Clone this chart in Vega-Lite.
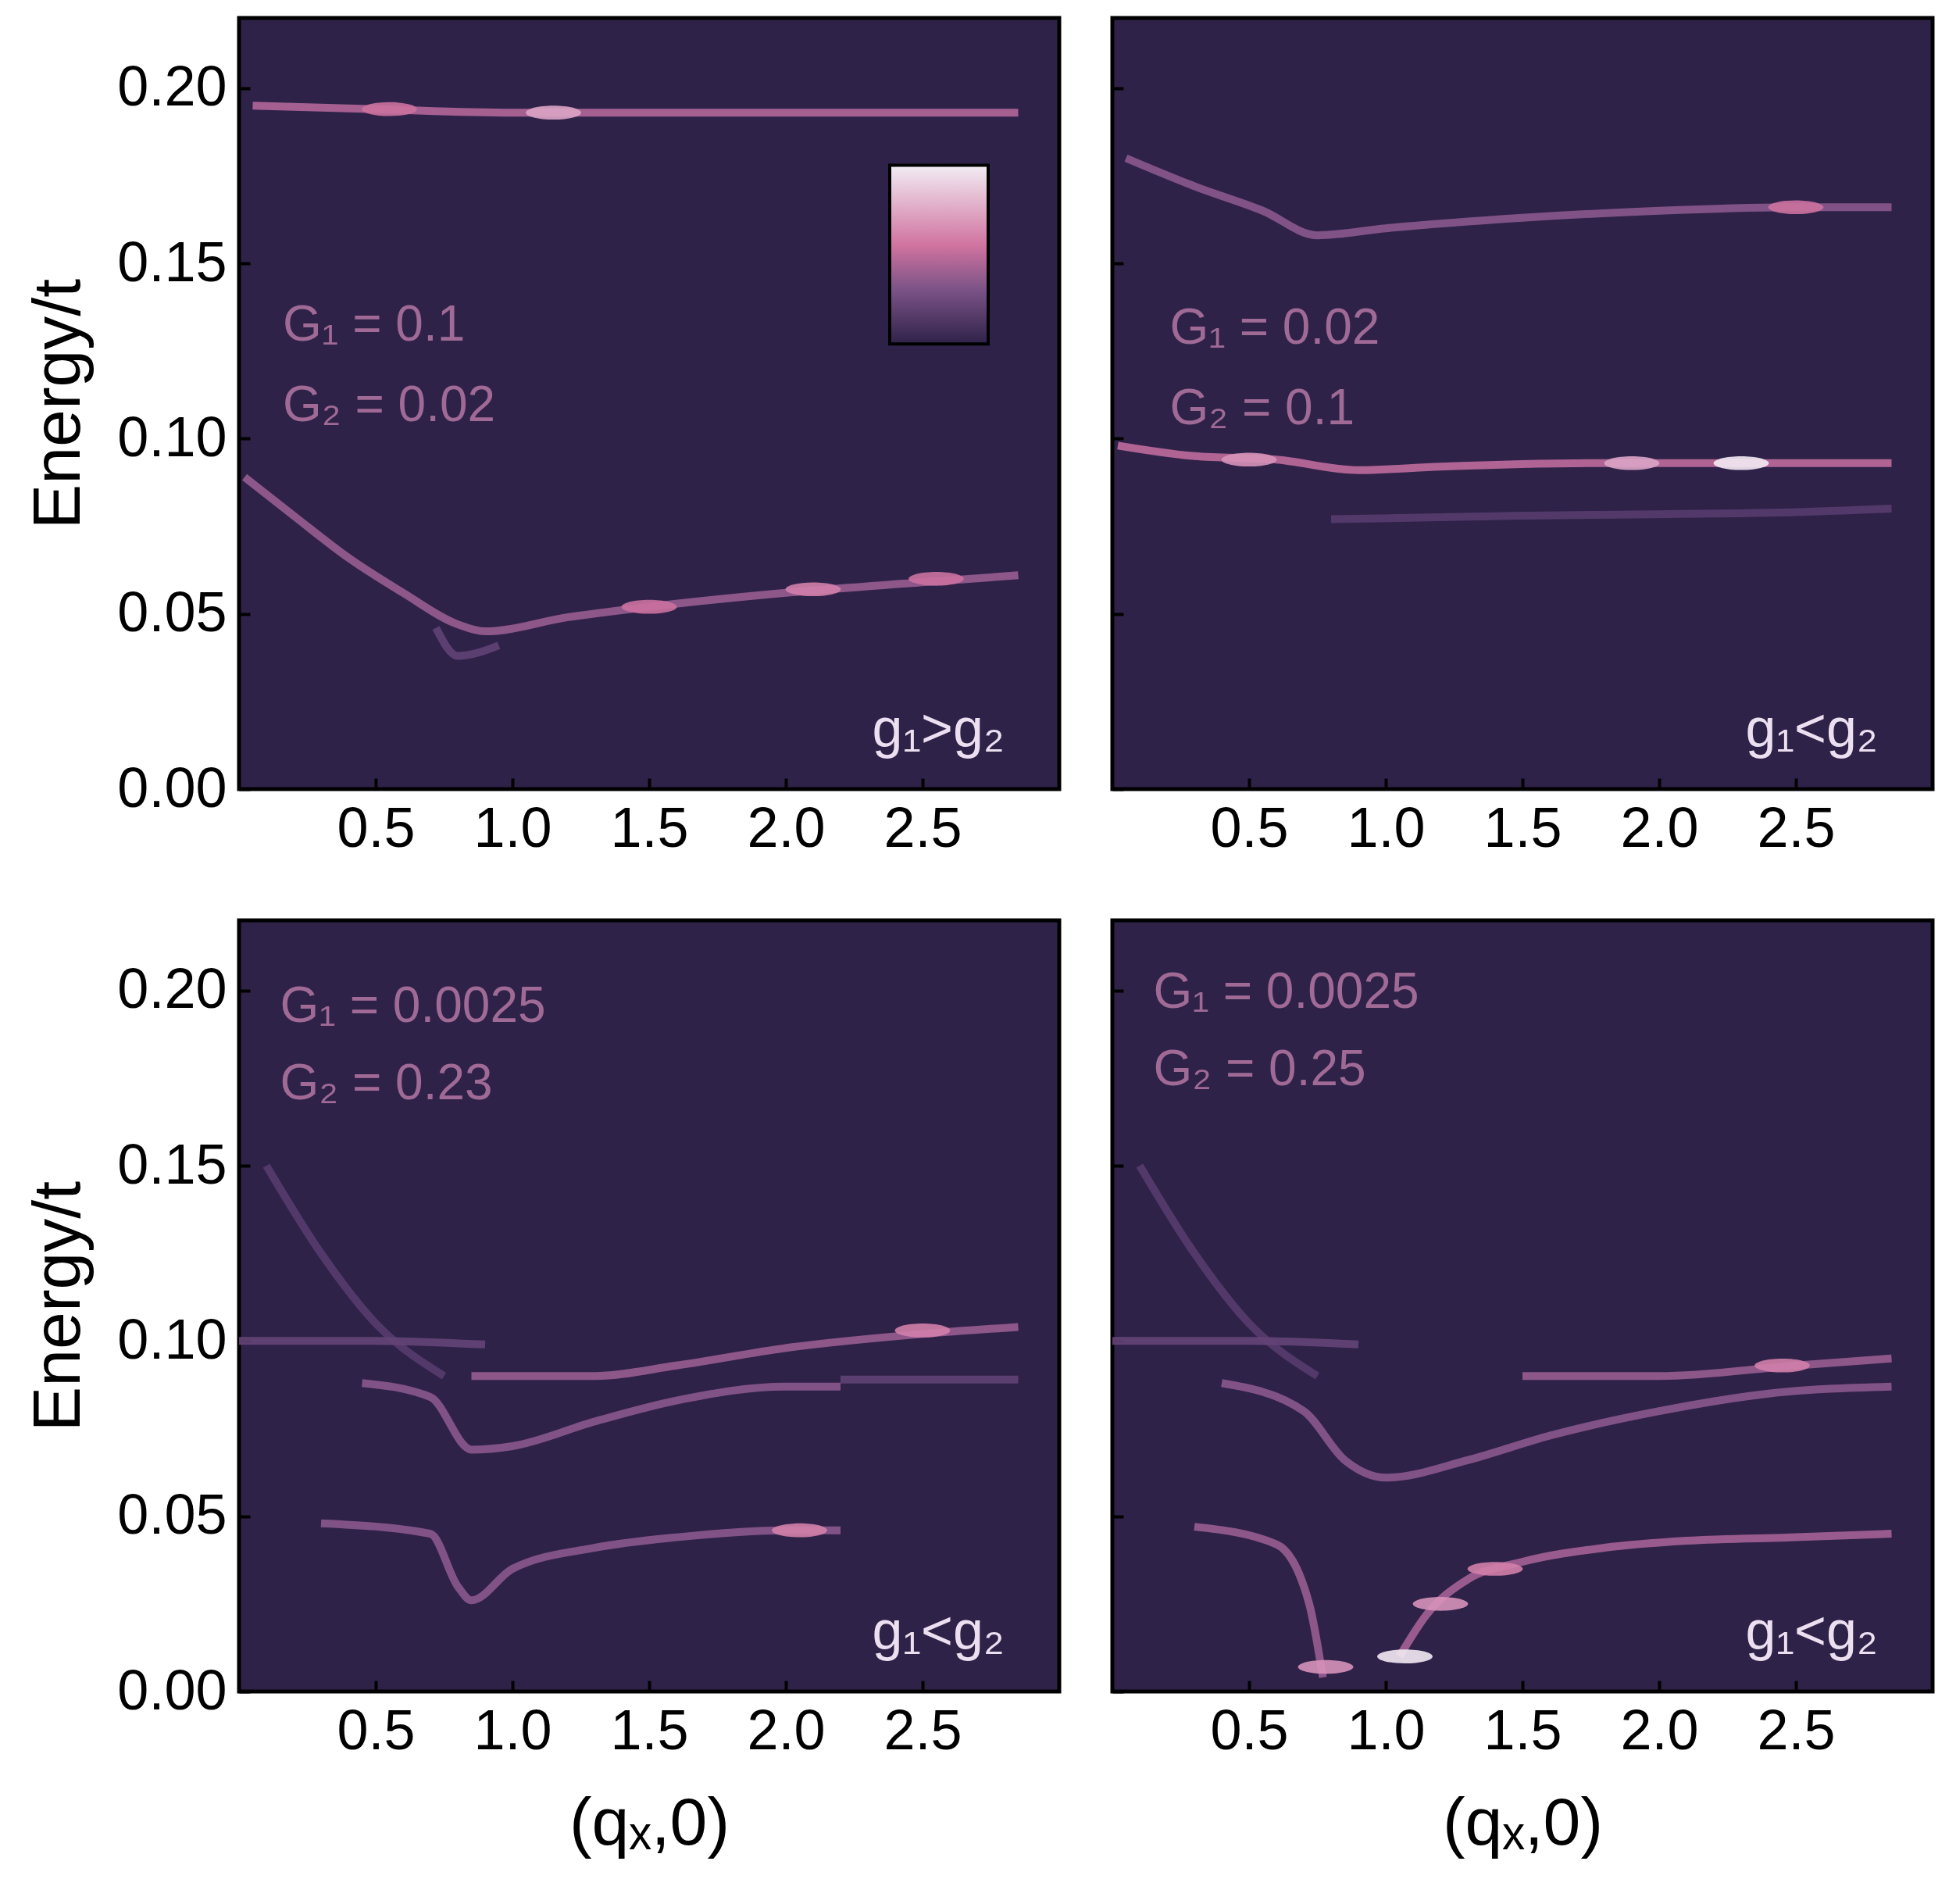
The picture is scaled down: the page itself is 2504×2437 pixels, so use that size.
{
  "$schema": "https://vega.github.io/schema/vega-lite/v6.json",
  "background": "white",
  "padding": {"left": 30, "top": 20, "right": 10, "bottom": 10},
  "datasets": {
    "bands": [
      {"panel": 1, "curve": "a", "tone": 0.55, "q": 0.05, "E": 0.195},
      {"panel": 1, "curve": "a", "tone": 0.55, "q": 0.5, "E": 0.194},
      {"panel": 1, "curve": "a", "tone": 0.55, "q": 1.0, "E": 0.193},
      {"panel": 1, "curve": "a", "tone": 0.55, "q": 1.5, "E": 0.193},
      {"panel": 1, "curve": "a", "tone": 0.55, "q": 2.0, "E": 0.193},
      {"panel": 1, "curve": "a", "tone": 0.55, "q": 2.5, "E": 0.193},
      {"panel": 1, "curve": "a", "tone": 0.55, "q": 2.85, "E": 0.193},
      {"panel": 1, "curve": "b", "tone": 0.45, "q": 0.02, "E": 0.089},
      {"panel": 1, "curve": "b", "tone": 0.45, "q": 0.2, "E": 0.078},
      {"panel": 1, "curve": "b", "tone": 0.45, "q": 0.4, "E": 0.066},
      {"panel": 1, "curve": "b", "tone": 0.45, "q": 0.6, "E": 0.056},
      {"panel": 1, "curve": "b", "tone": 0.45, "q": 0.8, "E": 0.047},
      {"panel": 1, "curve": "b", "tone": 0.45, "q": 0.9, "E": 0.045},
      {"panel": 1, "curve": "b", "tone": 0.45, "q": 1.2, "E": 0.049},
      {"panel": 1, "curve": "b", "tone": 0.45, "q": 1.5, "E": 0.052},
      {"panel": 1, "curve": "b", "tone": 0.45, "q": 2.0, "E": 0.056},
      {"panel": 1, "curve": "b", "tone": 0.45, "q": 2.5, "E": 0.059},
      {"panel": 1, "curve": "b", "tone": 0.45, "q": 2.85, "E": 0.061},
      {"panel": 1, "curve": "c", "tone": 0.2, "q": 0.72, "E": 0.046},
      {"panel": 1, "curve": "c", "tone": 0.2, "q": 0.8, "E": 0.038},
      {"panel": 1, "curve": "c", "tone": 0.2, "q": 0.95, "E": 0.041},

      {"panel": 2, "curve": "a", "tone": 0.4, "q": 0.05, "E": 0.18},
      {"panel": 2, "curve": "a", "tone": 0.4, "q": 0.3, "E": 0.172},
      {"panel": 2, "curve": "a", "tone": 0.4, "q": 0.55, "E": 0.165},
      {"panel": 2, "curve": "a", "tone": 0.4, "q": 0.75, "E": 0.158},
      {"panel": 2, "curve": "a", "tone": 0.4, "q": 1.0, "E": 0.16},
      {"panel": 2, "curve": "a", "tone": 0.4, "q": 1.5, "E": 0.163},
      {"panel": 2, "curve": "a", "tone": 0.4, "q": 2.0, "E": 0.165},
      {"panel": 2, "curve": "a", "tone": 0.4, "q": 2.5, "E": 0.166},
      {"panel": 2, "curve": "a", "tone": 0.4, "q": 2.85, "E": 0.166},
      {"panel": 2, "curve": "b", "tone": 0.6, "q": 0.02, "E": 0.098},
      {"panel": 2, "curve": "b", "tone": 0.6, "q": 0.3, "E": 0.095},
      {"panel": 2, "curve": "b", "tone": 0.6, "q": 0.6, "E": 0.094},
      {"panel": 2, "curve": "b", "tone": 0.6, "q": 0.9, "E": 0.091},
      {"panel": 2, "curve": "b", "tone": 0.6, "q": 1.2, "E": 0.092},
      {"panel": 2, "curve": "b", "tone": 0.6, "q": 1.8, "E": 0.093},
      {"panel": 2, "curve": "b", "tone": 0.6, "q": 2.3, "E": 0.093},
      {"panel": 2, "curve": "b", "tone": 0.6, "q": 2.85, "E": 0.093},
      {"panel": 2, "curve": "c", "tone": 0.15, "q": 0.8, "E": 0.077},
      {"panel": 2, "curve": "c", "tone": 0.15, "q": 1.5, "E": 0.078},
      {"panel": 2, "curve": "c", "tone": 0.15, "q": 2.5, "E": 0.079},
      {"panel": 2, "curve": "c", "tone": 0.15, "q": 2.85, "E": 0.08},

      {"panel": 3, "curve": "w", "tone": 0.15, "q": 0.1, "E": 0.15},
      {"panel": 3, "curve": "w", "tone": 0.15, "q": 0.3, "E": 0.125},
      {"panel": 3, "curve": "w", "tone": 0.15, "q": 0.5, "E": 0.105},
      {"panel": 3, "curve": "w", "tone": 0.15, "q": 0.75, "E": 0.09},
      {"panel": 3, "curve": "h", "tone": 0.22, "q": 0.0, "E": 0.1},
      {"panel": 3, "curve": "h", "tone": 0.22, "q": 0.5, "E": 0.1},
      {"panel": 3, "curve": "h", "tone": 0.22, "q": 0.9, "E": 0.099},
      {"panel": 3, "curve": "a", "tone": 0.4, "q": 0.45, "E": 0.088},
      {"panel": 3, "curve": "a", "tone": 0.4, "q": 0.7, "E": 0.084},
      {"panel": 3, "curve": "a", "tone": 0.4, "q": 0.85, "E": 0.069},
      {"panel": 3, "curve": "a", "tone": 0.4, "q": 1.0, "E": 0.07},
      {"panel": 3, "curve": "a", "tone": 0.4, "q": 1.3, "E": 0.077},
      {"panel": 3, "curve": "a", "tone": 0.4, "q": 1.6, "E": 0.083},
      {"panel": 3, "curve": "a", "tone": 0.4, "q": 2.0, "E": 0.087},
      {"panel": 3, "curve": "a", "tone": 0.4, "q": 2.2, "E": 0.087},
      {"panel": 3, "curve": "b", "tone": 0.45, "q": 0.85, "E": 0.09},
      {"panel": 3, "curve": "b", "tone": 0.45, "q": 1.3, "E": 0.09},
      {"panel": 3, "curve": "b", "tone": 0.45, "q": 1.6, "E": 0.093},
      {"panel": 3, "curve": "b", "tone": 0.45, "q": 2.0, "E": 0.098},
      {"panel": 3, "curve": "b", "tone": 0.45, "q": 2.5, "E": 0.102},
      {"panel": 3, "curve": "b", "tone": 0.45, "q": 2.85, "E": 0.104},
      {"panel": 3, "curve": "c", "tone": 0.2, "q": 2.2, "E": 0.089},
      {"panel": 3, "curve": "c", "tone": 0.2, "q": 2.85, "E": 0.089},
      {"panel": 3, "curve": "d", "tone": 0.4, "q": 0.3, "E": 0.048},
      {"panel": 3, "curve": "d", "tone": 0.4, "q": 0.7, "E": 0.045},
      {"panel": 3, "curve": "d", "tone": 0.4, "q": 0.8, "E": 0.03},
      {"panel": 3, "curve": "d", "tone": 0.4, "q": 0.85, "E": 0.026},
      {"panel": 3, "curve": "d", "tone": 0.4, "q": 1.0, "E": 0.035},
      {"panel": 3, "curve": "d", "tone": 0.4, "q": 1.3, "E": 0.041},
      {"panel": 3, "curve": "d", "tone": 0.4, "q": 1.6, "E": 0.044},
      {"panel": 3, "curve": "d", "tone": 0.4, "q": 2.0, "E": 0.046},
      {"panel": 3, "curve": "d", "tone": 0.4, "q": 2.2, "E": 0.046},

      {"panel": 4, "curve": "w", "tone": 0.15, "q": 0.1, "E": 0.15},
      {"panel": 4, "curve": "w", "tone": 0.15, "q": 0.3, "E": 0.125},
      {"panel": 4, "curve": "w", "tone": 0.15, "q": 0.5, "E": 0.105},
      {"panel": 4, "curve": "w", "tone": 0.15, "q": 0.75, "E": 0.09},
      {"panel": 4, "curve": "h", "tone": 0.22, "q": 0.0, "E": 0.1},
      {"panel": 4, "curve": "h", "tone": 0.22, "q": 0.5, "E": 0.1},
      {"panel": 4, "curve": "h", "tone": 0.22, "q": 0.9, "E": 0.099},
      {"panel": 4, "curve": "a", "tone": 0.4, "q": 0.4, "E": 0.088},
      {"panel": 4, "curve": "a", "tone": 0.4, "q": 0.7, "E": 0.08},
      {"panel": 4, "curve": "a", "tone": 0.4, "q": 0.85, "E": 0.066},
      {"panel": 4, "curve": "a", "tone": 0.4, "q": 1.0, "E": 0.061},
      {"panel": 4, "curve": "a", "tone": 0.4, "q": 1.3, "E": 0.066},
      {"panel": 4, "curve": "a", "tone": 0.4, "q": 1.6, "E": 0.073},
      {"panel": 4, "curve": "a", "tone": 0.4, "q": 2.0, "E": 0.08},
      {"panel": 4, "curve": "a", "tone": 0.4, "q": 2.4, "E": 0.085},
      {"panel": 4, "curve": "a", "tone": 0.4, "q": 2.85, "E": 0.087},
      {"panel": 4, "curve": "b", "tone": 0.45, "q": 1.5, "E": 0.09},
      {"panel": 4, "curve": "b", "tone": 0.45, "q": 2.0, "E": 0.09},
      {"panel": 4, "curve": "b", "tone": 0.45, "q": 2.5, "E": 0.093},
      {"panel": 4, "curve": "b", "tone": 0.45, "q": 2.85, "E": 0.095},
      {"panel": 4, "curve": "d", "tone": 0.45, "q": 0.3, "E": 0.047},
      {"panel": 4, "curve": "d", "tone": 0.45, "q": 0.6, "E": 0.042},
      {"panel": 4, "curve": "d", "tone": 0.45, "q": 0.72, "E": 0.025},
      {"panel": 4, "curve": "d", "tone": 0.45, "q": 0.77, "E": 0.004},
      {"panel": 4, "curve": "e", "tone": 0.5, "q": 1.05, "E": 0.01},
      {"panel": 4, "curve": "e", "tone": 0.5, "q": 1.15, "E": 0.022},
      {"panel": 4, "curve": "e", "tone": 0.5, "q": 1.3, "E": 0.032},
      {"panel": 4, "curve": "e", "tone": 0.5, "q": 1.5, "E": 0.037},
      {"panel": 4, "curve": "e", "tone": 0.5, "q": 1.8, "E": 0.041},
      {"panel": 4, "curve": "e", "tone": 0.5, "q": 2.1, "E": 0.043},
      {"panel": 4, "curve": "e", "tone": 0.5, "q": 2.5, "E": 0.044},
      {"panel": 4, "curve": "e", "tone": 0.5, "q": 2.85, "E": 0.045}
    ],
    "spots": [
      {"panel": 1, "q": 1.15, "E": 0.193, "tone": 0.8},
      {"panel": 1, "q": 0.55, "E": 0.194, "tone": 0.65},
      {"panel": 1, "q": 2.1, "E": 0.057, "tone": 0.7},
      {"panel": 1, "q": 2.55, "E": 0.06, "tone": 0.65},
      {"panel": 1, "q": 1.5, "E": 0.052, "tone": 0.65},
      {"panel": 2, "q": 2.3, "E": 0.093, "tone": 1.0},
      {"panel": 2, "q": 0.5, "E": 0.094, "tone": 0.75},
      {"panel": 2, "q": 1.9, "E": 0.093, "tone": 0.8},
      {"panel": 2, "q": 2.5, "E": 0.166, "tone": 0.65},
      {"panel": 3, "q": 2.05, "E": 0.046, "tone": 0.7},
      {"panel": 3, "q": 2.5, "E": 0.103, "tone": 0.7},
      {"panel": 4, "q": 1.07, "E": 0.01, "tone": 1.0},
      {"panel": 4, "q": 0.78, "E": 0.007, "tone": 0.75},
      {"panel": 4, "q": 1.2, "E": 0.025, "tone": 0.75},
      {"panel": 4, "q": 1.4, "E": 0.035, "tone": 0.7},
      {"panel": 4, "q": 2.45, "E": 0.093, "tone": 0.7}
    ],
    "labels": [
      {"panel": 1, "q": 0.16, "E": 0.128, "text": "G₁ = 0.1"},
      {"panel": 1, "q": 0.16, "E": 0.105, "text": "G₂ = 0.02"},
      {"panel": 2, "q": 0.21, "E": 0.127, "text": "G₁ = 0.02"},
      {"panel": 2, "q": 0.21, "E": 0.104, "text": "G₂ = 0.1"},
      {"panel": 3, "q": 0.15, "E": 0.191, "text": "G₁ = 0.0025"},
      {"panel": 3, "q": 0.15, "E": 0.169, "text": "G₂ = 0.23"},
      {"panel": 4, "q": 0.15, "E": 0.195, "text": "G₁ = 0.0025"},
      {"panel": 4, "q": 0.15, "E": 0.173, "text": "G₂ = 0.25"}
    ],
    "regimes": [
      {"panel": 1, "q": 2.8, "E": 0.012, "text": "g₁>g₂"},
      {"panel": 2, "q": 2.8, "E": 0.012, "text": "g₁<g₂"},
      {"panel": 3, "q": 2.8, "E": 0.012, "text": "g₁<g₂"},
      {"panel": 4, "q": 2.8, "E": 0.012, "text": "g₁<g₂"}
    ],
    "bar": [{"q1": 2.38, "q2": 2.74, "E1": 0.127, "E2": 0.178}]
  },
  "config": {
    "font": "Liberation Sans",
    "view": {"fill": "#2f2249", "stroke": "black", "strokeWidth": 5},
    "axis": {
      "labelFontSize": 72, "titleFontSize": 86, "titleFontWeight": "normal",
      "labelColor": "black", "titleColor": "black", "domain": false,
      "grid": false, "tickColor": "black", "tickWidth": 4, "tickSize": -14,
      "labelPadding": 30
    }
  },
  "columns": 2,
  "spacing": {"column": 60, "row": 75},
  "concat": [
    {
      "width": 1050, "height": 987,
      "layer": [
        {"data": {"name": "bands"}, "transform": [{"filter": "datum.panel == 1"}],
         "mark": {"type": "line", "strokeWidth": 10, "opacity": 0.9, "interpolate": "monotone", "clip": true},
         "encoding": {
           "x": {"field": "q", "type": "quantitative", "scale": {"domain": [0, 2.85]}, "axis": {"values": [0.5, 1.0, 1.5, 2.0, 2.5], "format": ".1f", "title": null}},
           "y": {"field": "E", "type": "quantitative", "scale": {"domain": [0, 0.22]}, "axis": {"values": [0, 0.05, 0.1, 0.15, 0.2], "format": ".2f", "title": "Energy/t", "titlePadding": 30}},
           "detail": {"field": "curve"},
           "color": {"field": "tone", "type": "quantitative", "scale": {"domain": [0, 1], "range": ["#3a2b58", "#7a5286", "#cf739f", "#f4eaf4"]}, "legend": null}}},
        {"data": {"name": "spots"}, "transform": [{"filter": "datum.panel == 1"}],
         "mark": {"type": "point", "shape": "M-1,0A1,0.25 0 1,0 1,0A1,0.25 0 1,0 -1,0Z", "filled": true, "size": 5000, "opacity": 0.9},
         "encoding": {"x": {"field": "q", "type": "quantitative"}, "y": {"field": "E", "type": "quantitative"},
           "color": {"field": "tone", "type": "quantitative", "scale": {"domain": [0, 1], "range": ["#3a2b58", "#7a5286", "#cf739f", "#f4eaf4"]}, "legend": null}}},
        {"data": {"name": "bar"},
         "mark": {"type": "rect", "stroke": "black", "strokeWidth": 4,
           "fill": {"gradient": "linear", "x1": 0, "y1": 1, "x2": 0, "y2": 0, "stops": [
             {"offset": 0, "color": "#2f2249"}, {"offset": 0.3, "color": "#7a5286"}, {"offset": 0.55, "color": "#d0739f"}, {"offset": 1, "color": "#f2ecf4"}]}},
         "encoding": {"x": {"field": "q1", "type": "quantitative"}, "x2": {"field": "q2"}, "y": {"field": "E1", "type": "quantitative"}, "y2": {"field": "E2"}}},
        {"data": {"name": "labels"}, "transform": [{"filter": "datum.panel == 1"}],
         "mark": {"type": "text", "align": "left", "baseline": "alphabetic", "fontSize": 64, "color": "#a06a96"},
         "encoding": {"x": {"field": "q", "type": "quantitative"}, "y": {"field": "E", "type": "quantitative"}, "text": {"field": "text"}}},
        {"data": {"name": "regimes"}, "transform": [{"filter": "datum.panel == 1"}],
         "mark": {"type": "text", "align": "right", "baseline": "alphabetic", "fontSize": 70, "color": "#ebdff0"},
         "encoding": {"x": {"field": "q", "type": "quantitative"}, "y": {"field": "E", "type": "quantitative"}, "text": {"field": "text"}}}
      ]
    },
    {
      "width": 1050, "height": 987,
      "layer": [
        {"data": {"name": "bands"}, "transform": [{"filter": "datum.panel == 2"}],
         "mark": {"type": "line", "strokeWidth": 10, "opacity": 0.9, "interpolate": "monotone", "clip": true},
         "encoding": {
           "x": {"field": "q", "type": "quantitative", "scale": {"domain": [0, 2.85]}, "axis": {"values": [0.5, 1.0, 1.5, 2.0, 2.5], "format": ".1f", "title": null}},
           "y": {"field": "E", "type": "quantitative", "scale": {"domain": [0, 0.22]}, "axis": {"values": [0, 0.05, 0.1, 0.15, 0.2], "labels": false, "title": null}},
           "detail": {"field": "curve"},
           "color": {"field": "tone", "type": "quantitative", "scale": {"domain": [0, 1], "range": ["#3a2b58", "#7a5286", "#cf739f", "#f4eaf4"]}, "legend": null}}},
        {"data": {"name": "spots"}, "transform": [{"filter": "datum.panel == 2"}],
         "mark": {"type": "point", "shape": "M-1,0A1,0.25 0 1,0 1,0A1,0.25 0 1,0 -1,0Z", "filled": true, "size": 5000, "opacity": 0.9},
         "encoding": {"x": {"field": "q", "type": "quantitative"}, "y": {"field": "E", "type": "quantitative"},
           "color": {"field": "tone", "type": "quantitative", "scale": {"domain": [0, 1], "range": ["#3a2b58", "#7a5286", "#cf739f", "#f4eaf4"]}, "legend": null}}},
        {"data": {"name": "labels"}, "transform": [{"filter": "datum.panel == 2"}],
         "mark": {"type": "text", "align": "left", "baseline": "alphabetic", "fontSize": 64, "color": "#a06a96"},
         "encoding": {"x": {"field": "q", "type": "quantitative"}, "y": {"field": "E", "type": "quantitative"}, "text": {"field": "text"}}},
        {"data": {"name": "regimes"}, "transform": [{"filter": "datum.panel == 2"}],
         "mark": {"type": "text", "align": "right", "baseline": "alphabetic", "fontSize": 70, "color": "#ebdff0"},
         "encoding": {"x": {"field": "q", "type": "quantitative"}, "y": {"field": "E", "type": "quantitative"}, "text": {"field": "text"}}}
      ]
    },
    {
      "width": 1050, "height": 987,
      "layer": [
        {"data": {"name": "bands"}, "transform": [{"filter": "datum.panel == 3"}],
         "mark": {"type": "line", "strokeWidth": 10, "opacity": 0.9, "interpolate": "monotone", "clip": true},
         "encoding": {
           "x": {"field": "q", "type": "quantitative", "scale": {"domain": [0, 2.85]}, "axis": {"values": [0.5, 1.0, 1.5, 2.0, 2.5], "format": ".1f", "title": "(qₓ,0)", "titlePadding": 40}},
           "y": {"field": "E", "type": "quantitative", "scale": {"domain": [0, 0.22]}, "axis": {"values": [0, 0.05, 0.1, 0.15, 0.2], "format": ".2f", "title": "Energy/t", "titlePadding": 30}},
           "detail": {"field": "curve"},
           "color": {"field": "tone", "type": "quantitative", "scale": {"domain": [0, 1], "range": ["#3a2b58", "#7a5286", "#cf739f", "#f4eaf4"]}, "legend": null}}},
        {"data": {"name": "spots"}, "transform": [{"filter": "datum.panel == 3"}],
         "mark": {"type": "point", "shape": "M-1,0A1,0.25 0 1,0 1,0A1,0.25 0 1,0 -1,0Z", "filled": true, "size": 5000, "opacity": 0.9},
         "encoding": {"x": {"field": "q", "type": "quantitative"}, "y": {"field": "E", "type": "quantitative"},
           "color": {"field": "tone", "type": "quantitative", "scale": {"domain": [0, 1], "range": ["#3a2b58", "#7a5286", "#cf739f", "#f4eaf4"]}, "legend": null}}},
        {"data": {"name": "labels"}, "transform": [{"filter": "datum.panel == 3"}],
         "mark": {"type": "text", "align": "left", "baseline": "alphabetic", "fontSize": 64, "color": "#a06a96"},
         "encoding": {"x": {"field": "q", "type": "quantitative"}, "y": {"field": "E", "type": "quantitative"}, "text": {"field": "text"}}},
        {"data": {"name": "regimes"}, "transform": [{"filter": "datum.panel == 3"}],
         "mark": {"type": "text", "align": "right", "baseline": "alphabetic", "fontSize": 70, "color": "#ebdff0"},
         "encoding": {"x": {"field": "q", "type": "quantitative"}, "y": {"field": "E", "type": "quantitative"}, "text": {"field": "text"}}}
      ]
    },
    {
      "width": 1050, "height": 987,
      "layer": [
        {"data": {"name": "bands"}, "transform": [{"filter": "datum.panel == 4"}],
         "mark": {"type": "line", "strokeWidth": 10, "opacity": 0.9, "interpolate": "monotone", "clip": true},
         "encoding": {
           "x": {"field": "q", "type": "quantitative", "scale": {"domain": [0, 2.85]}, "axis": {"values": [0.5, 1.0, 1.5, 2.0, 2.5], "format": ".1f", "title": "(qₓ,0)", "titlePadding": 40}},
           "y": {"field": "E", "type": "quantitative", "scale": {"domain": [0, 0.22]}, "axis": {"values": [0, 0.05, 0.1, 0.15, 0.2], "labels": false, "title": null}},
           "detail": {"field": "curve"},
           "color": {"field": "tone", "type": "quantitative", "scale": {"domain": [0, 1], "range": ["#3a2b58", "#7a5286", "#cf739f", "#f4eaf4"]}, "legend": null}}},
        {"data": {"name": "spots"}, "transform": [{"filter": "datum.panel == 4"}],
         "mark": {"type": "point", "shape": "M-1,0A1,0.25 0 1,0 1,0A1,0.25 0 1,0 -1,0Z", "filled": true, "size": 5000, "opacity": 0.9},
         "encoding": {"x": {"field": "q", "type": "quantitative"}, "y": {"field": "E", "type": "quantitative"},
           "color": {"field": "tone", "type": "quantitative", "scale": {"domain": [0, 1], "range": ["#3a2b58", "#7a5286", "#cf739f", "#f4eaf4"]}, "legend": null}}},
        {"data": {"name": "labels"}, "transform": [{"filter": "datum.panel == 4"}],
         "mark": {"type": "text", "align": "left", "baseline": "alphabetic", "fontSize": 64, "color": "#a06a96"},
         "encoding": {"x": {"field": "q", "type": "quantitative"}, "y": {"field": "E", "type": "quantitative"}, "text": {"field": "text"}}},
        {"data": {"name": "regimes"}, "transform": [{"filter": "datum.panel == 4"}],
         "mark": {"type": "text", "align": "right", "baseline": "alphabetic", "fontSize": 70, "color": "#ebdff0"},
         "encoding": {"x": {"field": "q", "type": "quantitative"}, "y": {"field": "E", "type": "quantitative"}, "text": {"field": "text"}}}
      ]
    }
  ]
}
